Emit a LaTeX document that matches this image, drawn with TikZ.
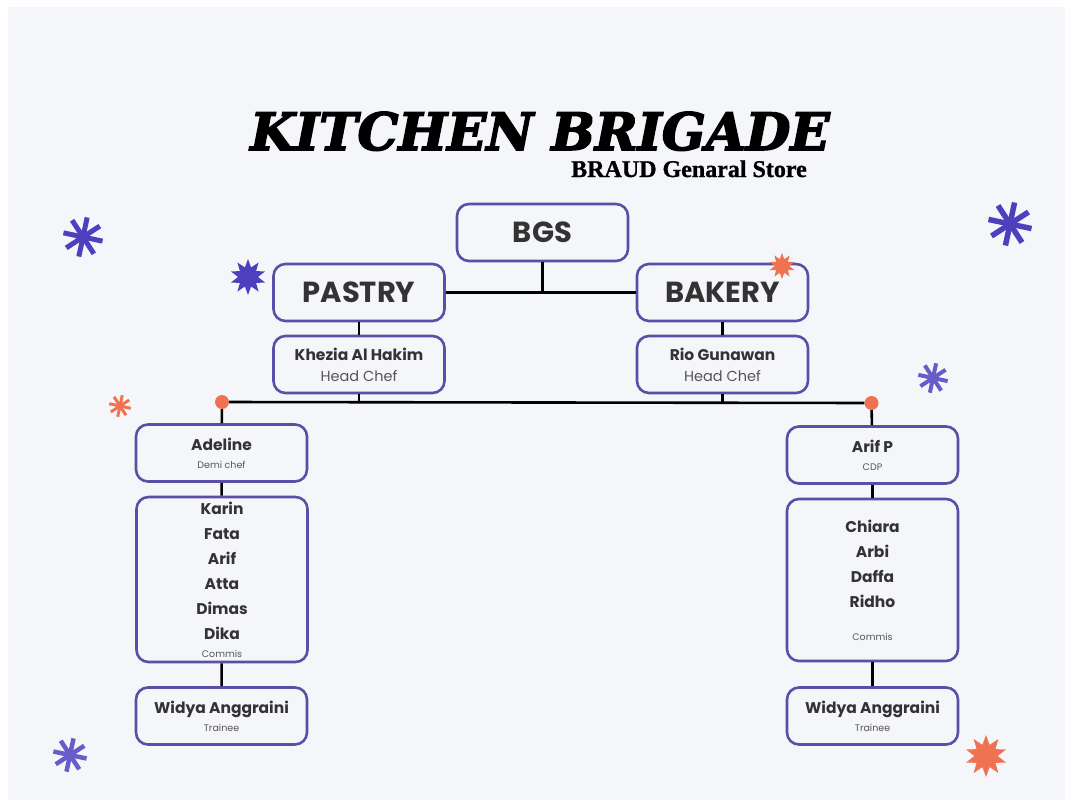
\documentclass[tikz,border=0pt]{standalone}
\usepackage{fontspec}
\setmainfont{Poppins}
\newfontfamily\titlefont[FakeBold=3]{DejaVu Serif}
\newfontfamily\subfont[FakeBold=1]{Liberation Serif}
\usetikzlibrary{shapes.geometric, positioning}
\definecolor{bgcol}{HTML}{F5F6FA}
\definecolor{boxpurple}{HTML}{5B4EA6}
\definecolor{starpurple}{HTML}{4C40BE}
\definecolor{myorange}{HTML}{EF7352}
\definecolor{textgray}{HTML}{333333}
\definecolor{rolegray}{HTML}{555555}
\newcommand{\jobtitle}[2]{{\mdseries\color{rolegray}\fontsize{#1}{#1}\selectfont #2}}
\tikzset{
	boxnode/.style={
			rounded corners=12,
			draw=boxpurple,
			line width=2.6,
			fill=bgcol,
			minimum width=171,
			minimum height=57,
			inner sep=0pt,
			align=center,
			text=textgray,
			font=\bfseries\fontsize{15.5}{21}\selectfont
		},
	bignode/.style={
			boxnode,
			font=\bfseries\fontsize{29}{29}\selectfont
		},
	listnode/.style={
			boxnode,
			font=\bfseries\fontsize{15.5}{25}\selectfont
		},
	link/.style={
			line width=2.6,
			black
		},
	dotnode/.style={
			circle,
			fill=myorange,
			minimum size=14,
			inner sep=0pt
		},
	burst/.style={
			star,
			star points=10,
			star point ratio=1.8,
			inner sep=0pt
		},
	asterisk/.pic={
			\foreach \a in {0,45,90,135}
				\draw (\a+12:-1) -- (\a+12:1);
		}
}

\begin{document}
\begin{tikzpicture}[x=1pt, y=-1pt]
\fill[white] (0,0) rectangle (1065,800);
\fill[bgcol] (8,7) rectangle (1065,800);

    \node[anchor=base, inner sep=0pt, font=\titlefont\bfseries\itshape\fontsize{51.5}{51.5}\selectfont] (title) at (540,150) {KITCHEN BRIGADE};
    \node[anchor=base, inner sep=0pt, font=\subfont\bfseries\fontsize{24}{24}\selectfont] (subtitle) at (689,177) {BRAUD Genaral Store};

    \node[bignode] (bgs) at (542.5,232.5) {BGS};
    \node[bignode] (pastry) at (359,292.5) {PASTRY};
    \node[bignode] (bakery) at (722.5,292.5) {BAKERY};
    \node[boxnode] (khezia) at (359,364.5) {Khezia Al Hakim\\\jobtitle{14.5}{Head Chef}};
    \node[boxnode] (rio) at (722.5,364.5) {Rio Gunawan\\\jobtitle{14.5}{Head Chef}};

    \node[dotnode] (dotl) at (222,402) {};
    \node[dotnode] (dotr) at (871.5,403) {};

    \node[boxnode] (adeline) at (221.5,453) {Adeline\\[-3pt]\jobtitle{9.5}{Demi chef}};
    \node[listnode, minimum height=165] (commisl) at (222,579.5) {Karin\\Fata\\Arif\\Atta\\Dimas\\Dika\\[-7pt]\jobtitle{9.5}{Commis}};
    \node[boxnode] (widyal) at (221.5,716) {Widya Anggraini\\[-3pt]\jobtitle{9.5}{Trainee}};

    \node[boxnode] (arif) at (872.5,455) {Arif P\\[-3pt]\jobtitle{9.5}{CDP}};
    \node[listnode, minimum height=162] (commisr) at (872.5,580) {Chiara\\Arbi\\Daffa\\Ridho\\[8pt]\jobtitle{9.5}{Commis}};
    \node[boxnode] (widyar) at (872.5,716) {Widya Anggraini\\[-3pt]\jobtitle{9.5}{Trainee}};

    \draw[link] (bgs) -- (bgs |- pastry);
    \draw[link] (pastry) -- (bakery);
    \draw[link] (pastry) -- (khezia);
    \draw[link] (bakery) -- (rio);
    \draw[link] (dotl) -- (dotr);
    \draw[link] (khezia) -- (khezia |- dotl);
    \draw[link] (rio) -- (rio |- dotl);

    \draw[link] (dotl) -- (adeline);
    \draw[link] (adeline) -- (commisl);
    \draw[link] (commisl) -- (widyal);
    \draw[link] (dotr) -- (arif);
    \draw[link] (arif) -- (commisr);
    \draw[link] (commisr) -- (widyar);

    % decorations
    \pic[draw=starpurple, line width=5, scale=20] (astA) at (83,237) {asterisk};
    \pic[draw=starpurple, line width=5.5, scale=22] (astB) at (1010,224) {asterisk};
    \pic[draw=starpurple!85!white, line width=4, scale=15] (astC) at (933,378) {asterisk};
    \pic[draw=myorange, line width=3, scale=11] (astD) at (120,406) {asterisk};
    \pic[draw=starpurple!85!white, line width=4.5, scale=17] (astE) at (70,755) {asterisk};
    \node[burst, fill=starpurple, minimum size=36] (burstA) at (248,277) {};
    \node[burst, fill=myorange, minimum size=26] (burstB) at (782,266) {};
    \node[burst, fill=myorange, minimum size=42] (burstC) at (986,756) {};

\end{tikzpicture}
\end{document}
